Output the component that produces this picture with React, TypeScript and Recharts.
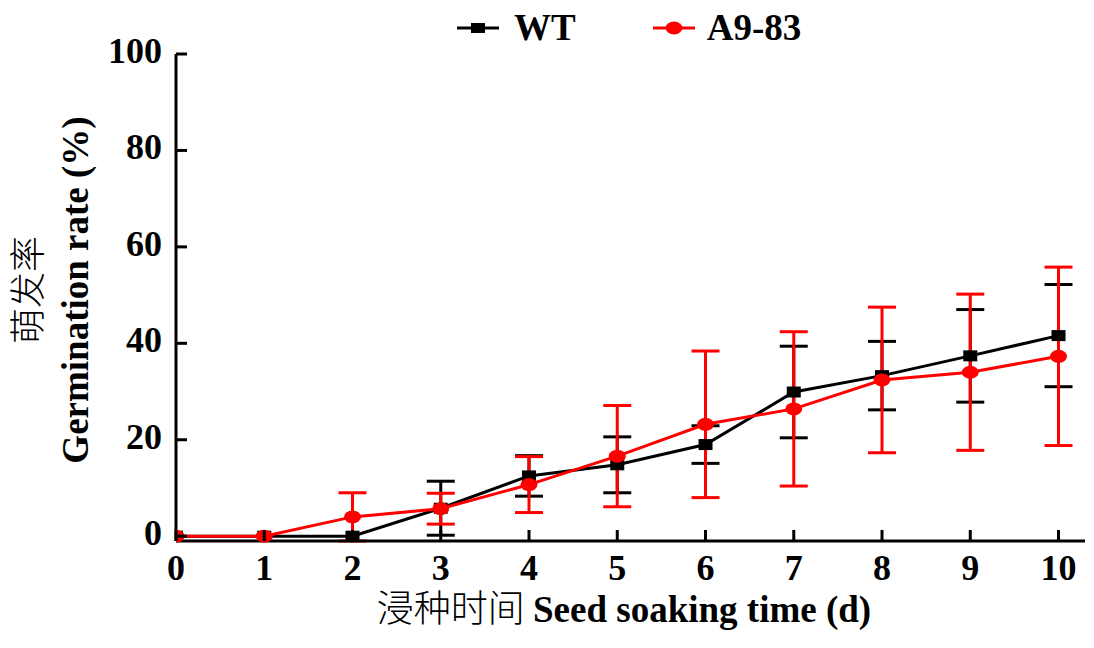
import React from 'react'
import { LineChart, Line, XAxis, YAxis, ErrorBar } from 'recharts'

const days = [0, 1, 2, 3, 4, 5, 6, 7, 8, 9, 10]
const wt = [0, 0, 0, 5.8, 12.5, 14.8, 19.0, 29.9, 33.3, 37.4, 41.6]
const wtErr = [0, 0, 0, 5.6, 4.2, 5.8, 3.9, 9.5, 7.1, 9.6, 10.6]
const a983 = [0, 0, 4.0, 5.7, 10.7, 16.6, 23.2, 26.4, 32.4, 34.0, 37.3]
const a983Err = [0, 0, 5.0, 3.2, 5.8, 10.5, 15.2, 16.0, 15.1, 16.2, 18.5]
const yTicks = [0, 20, 40, 60, 80, 100]

const data = days.map((d, i) => ({ day: d, wt: wt[i], wtErr: wtErr[i], a983: a983[i], a983Err: a983Err[i] }))

const SERIF = "'Liberation Serif', 'Times New Roman', serif"
const CJK = "'Noto Sans CJK SC', sans-serif"
const txt = { fontFamily: SERIF, fontWeight: 700, fontSize: 36, fill: '#000' }

// ticks drawn by hand so they point into the plot
function XTick({ x, y, payload }: any) {
  return (
    <g>
      <line x1={x} y1={y} x2={x} y2={y - 11} stroke="#000" strokeWidth={3} />
      <text x={x} y={y + 39} textAnchor="middle" style={txt}>{payload.value}</text>
    </g>
  )
}

function YTick({ x, y, payload }: any) {
  return (
    <g>
      <line x1={x} y1={y} x2={x + 11} y2={y} stroke="#000" strokeWidth={3} />
      <text x={x - 14} y={y + 9} textAnchor="end" style={txt}>{payload.value}</text>
    </g>
  )
}

function XLabel({ viewBox }: any) {
  const cx = viewBox.x + 448
  return (
    <text x={cx} y={622} textAnchor="middle" style={{ ...txt, fontSize: 37 }}>
      <tspan style={{ fontFamily: CJK, fontWeight: 300 }}>浸种时间 </tspan>
      Seed soaking time (d)
    </text>
  )
}

function YLabel() {
  const cy = 290
  return (
    <g>
      <text x={28} y={cy} transform={`rotate(-90, 28, ${cy})`} dy={13} textAnchor="middle"
        style={{ ...txt, fontFamily: CJK, fontWeight: 300 }}>萌发率</text>
      <text x={88} y={cy} transform={`rotate(-90, 88, ${cy})`} textAnchor="middle" style={{ ...txt, fontSize: 37 }}>
        Germination rate (%)
      </text>
    </g>
  )
}

const SquareDot = ({ cx, cy, index }: any) => (
  <rect key={`s${index}`} x={cx - 7} y={cy - 5.5} width={14} height={11} fill="#000" />
)
const RoundDot = ({ cx, cy, index }: any) => (
  <ellipse key={`c${index}`} cx={cx} cy={cy} rx={8.5} ry={6.5} fill="#ff0000" />
)

export default function App() {
  return (
    <div style={{ position: 'absolute', left: 0, top: 0, width: 1094, height: 648, background: '#fff' }}>
      <LineChart width={1094} height={648} data={data} margin={{ top: 54, right: 9, left: 116, bottom: 77 }}>
        <XAxis
          dataKey="day" type="number" domain={[0, 10.3]} ticks={days} allowDataOverflow
          axisLine={{ stroke: '#000', strokeWidth: 3 }} tickLine={false} tickSize={0} tickMargin={0}
          tick={<XTick />} height={30} label={<XLabel />}
        />
        <YAxis
          domain={[0, 100]} ticks={yTicks} width={60}
          axisLine={{ stroke: '#000', strokeWidth: 3 }} tickLine={false} tickSize={0} tickMargin={0}
          tick={<YTick />} label={<YLabel />}
        />
        <Line dataKey="wt" stroke="#000" strokeWidth={3} dot={SquareDot} activeDot={false} isAnimationActive={false}>
          <ErrorBar dataKey="wtErr" width={14} stroke="#000" strokeWidth={3} isAnimationActive={false} />
        </Line>
        <Line dataKey="a983" stroke="#ff0000" strokeWidth={3} dot={RoundDot} activeDot={false} isAnimationActive={false}>
          <ErrorBar dataKey="a983Err" width={14} stroke="#ff0000" strokeWidth={3} isAnimationActive={false} />
        </Line>
      </LineChart>
      <div style={{ position: 'absolute', top: 8, left: 457, display: 'flex', alignItems: 'center', fontFamily: SERIF, fontWeight: 700, fontSize: 37 }}>
        <svg width={42} height={20}>
          <line x1={0} y1={10} x2={42} y2={10} stroke="#000" strokeWidth={3} />
          <rect x={14} y={5} width={14} height={10} fill="#000" />
        </svg>
        <span style={{ marginLeft: 15, lineHeight: '40px' }}>WT</span>
        <svg width={42} height={20} style={{ marginLeft: 77 }}>
          <line x1={0} y1={10} x2={42} y2={10} stroke="#ff0000" strokeWidth={3} />
          <ellipse cx={21} cy={10} rx={8.5} ry={6.5} fill="#ff0000" />
        </svg>
        <span style={{ marginLeft: 12, lineHeight: '40px' }}>A9-83</span>
      </div>
    </div>
  )
}
